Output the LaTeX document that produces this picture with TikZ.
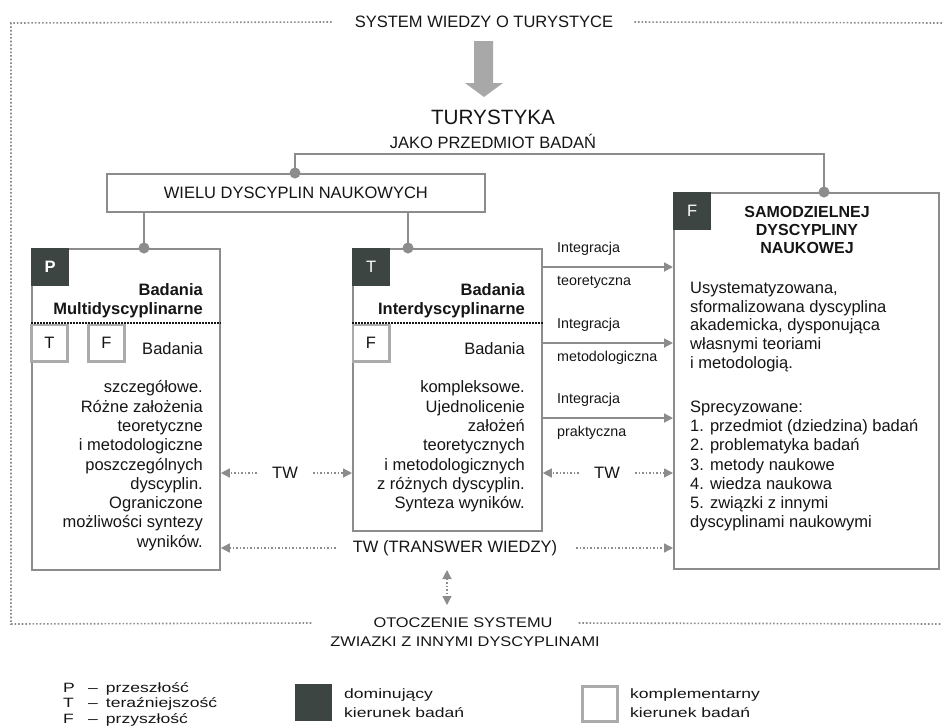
\documentclass[tikz,border=0pt]{standalone}
\usepackage{fontspec}
\setmainfont{Liberation Sans}
\newfontfamily\legfont[FakeStretch=1.3]{Liberation Sans}
\newfontfamily\otofont[FakeStretch=1.17]{Liberation Sans}
\usetikzlibrary{arrows.meta,positioning}

\definecolor{boxgray}{HTML}{8C8C8C}
\definecolor{darkbox}{HTML}{3D4543}
\definecolor{lightbox}{HTML}{ABABAB}
\definecolor{arrowgray}{HTML}{A8A8A8}
\definecolor{txt}{HTML}{151515}

\tikzset{
  body/.style={font=\fontsize{16.5}{19.3}\selectfont, text=txt, inner sep=0pt},
  head/.style={font=\fontsize{16.5}{19}\selectfont\bfseries, text=txt, inner sep=0pt},
  small/.style={font=\fontsize{14.3}{17}\selectfont, text=txt, inner sep=0pt, anchor=base west},
  panel/.style={draw=boxgray, line width=1.8pt, fill=white, anchor=north west, inner sep=0pt},
  dom/.style={fill=darkbox, text=white, minimum size=38pt, anchor=north west, inner sep=0pt,
    font=\fontsize{16.5}{19}\selectfont},
  comp/.style={draw=lightbox, line width=2.6pt, minimum size=36.4pt, inner sep=0pt, text=txt,
    font=\fontsize{16.5}{19}\selectfont},
  conn/.style={draw=boxgray, line width=1.8pt},
  joint/.style={fill=boxgray},
  integ/.style={draw=boxgray, line width=1.8pt, ->},
  twline/.style={draw=boxgray, line width=1.5pt, dotted},
  frame/.style={draw=boxgray, line width=1.6pt, dotted},
  sepline/.style={draw=txt, line width=2pt, densely dotted},
  oto/.style={font=\otofont\fontsize{14}{17}\selectfont, text=txt, inner sep=0pt},
  legend/.style={font=\legfont\fontsize{13.5}{19}\selectfont, text=txt, inner sep=0pt}
}

\begin{document}
\begin{tikzpicture}[x=1pt, y=-1pt, >={Triangle[length=9pt,width=9pt]}]
  \useasboundingbox (0,0) rectangle (950,726);

  \node[body] (title) at (484,22) {SYSTEM WIEDZY O TURYSTYCE};
  \fill[arrowgray] (474,41) -- (493,41) -- (493,83) -- (503,83) -- (484,97)
    -- (465,83) -- (474,83) -- cycle;
  \node[font=\fontsize{20.7}{24}\selectfont, text=txt, inner sep=0pt] (tur) at (493,117) {TURYSTYKA};
  \node[body] (jako) at (493,141) {JAKO PRZEDMIOT BADAŃ};

  \node[panel, body, minimum width=378, minimum height=38] (wielu) at (106,173) {WIELU DYSCYPLIN NAUKOWYCH};
  \node[panel, minimum width=188, minimum height=321] (multi) at (31,248) {};
  \node[panel, minimum width=189, minimum height=282] (inter) at (352,248) {};
  \node[panel, minimum width=265, minimum height=376] (samo) at (673,192) {};

  \coordinate (jw) at (295,173);
  \coordinate (js) at (824,192);
  \coordinate (jm) at (144,248);
  \coordinate (ji) at (408,248);
  \draw[conn] (jw) -- ++(0,-19) -| (js);
  \draw[conn] (jm |- wielu.south) -- (jm);
  \draw[conn] (ji |- wielu.south) -- (ji);
  \foreach \j in {jw,js,jm,ji}{
    \fill[joint] (\j) circle (5.5pt);
  }

  \node[dom, font=\fontsize{16.5}{19}\selectfont\bfseries] (pm) at (multi.north west) {P};
  \node[dom] (ti) at (inter.north west) {T};
  \node[dom] (fs) at (samo.north west) {F};

  \node[head, align=right, anchor=north east] (mtitle) at (203,283) {Badania\\Multidyscyplinarne};
  \node[head, align=right, anchor=north east] (ititle) at (525,283) {Badania\\Interdyscyplinarne};
  \draw[sepline] ([yshift=-75pt]multi.north west) -- ([yshift=-75pt]multi.north east);
  \draw[sepline] ([yshift=-75pt]inter.north west) -- ([yshift=-75pt]inter.north east);

  \node[comp] (mt) at (49.5,343) {T};
  \node[comp] (mf) at (106.5,343) {F};
  \node[comp] (itf) at (371,343) {F};

  \node[body, align=right, anchor=north east] (mtext) at (203,342)
    {Badania\\[19.4pt]szczegółowe.\\Różne założenia\\teoretyczne\\i metodologiczne\\poszczególnych\\dyscyplin.\\Ograniczone\\możliwości syntezy\\wyników.};
  \node[body, align=right, anchor=north east] (itext) at (525,342)
    {Badania\\[19.4pt]kompleksowe.\\Ujednolicenie\\założeń\\teoretycznych\\i metodologicznych\\z różnych dyscyplin.\\Synteza wyników.};

  \node[head, font=\fontsize{16}{18}\selectfont\bfseries, align=center, anchor=north] (stitle) at (807,206)
    {SAMODZIELNEJ\\DYSCYPLINY\\NAUKOWEJ};
  \node[body, font=\fontsize{16.5}{18.7}\selectfont, align=left, anchor=north west] (sdesc) at (690,282)
    {Usystematyzowana,\\sformalizowana dyscyplina\\akademicka, dysponująca\\własnymi teoriami\\i metodologią.};
  \node[body, font=\fontsize{16.5}{19.1}\selectfont, align=left, anchor=north west] (slist) at (690,401)
    {Sprecyzowane:\\1. przedmiot (dziedzina) badań\\2. problematyka badań\\3. metody naukowe\\4. wiedza naukowa\\5. związki z innymi\\dyscyplinami naukowymi};

  \foreach \y/\i/\w in {267/1/teoretyczna, 343/2/metodologiczna, 418/3/praktyczna}{
    \coordinate (r\i) at (0,\y);
    \draw[integ] (inter.east |- r\i) -- (samo.west |- r\i);
    \node[small] (ia\i) at (557,\y-15) {Integracja};
    \node[small] (ib\i) at (557,\y+18) {\w};
  }

  \node[body] (tw1) at (285,473) {TW};
  \node[body] (tw2) at (607,473) {TW};
  \node[body] (trans) at (455,548) {TW (TRANSWER WIEDZY)};
  \draw[twline, ->] ([xshift=-15pt]tw1.west) -- (multi.east |- tw1);
  \draw[twline, ->] ([xshift=15pt]tw1.east) -- (inter.west |- tw1);
  \draw[twline, ->] ([xshift=-15pt]tw2.west) -- (inter.east |- tw2);
  \draw[twline, ->] ([xshift=15pt]tw2.east) -- (samo.west |- tw2);
  \draw[twline, ->] ([xshift=-17pt]trans.west) -- (multi.east |- trans);
  \draw[twline, ->] ([xshift=19pt]trans.east) -- (samo.west |- trans);

  \node[oto] (oto) at (463,623) {OTOCZENIE SYSTEMU};
  \node[oto] (zw) at (465,642) {ZWIAZKI Z INNYMI DYSCYPLINAMI};
  \coordinate (vt) at (447,570);
  \coordinate (vb) at (447,605);
  \draw[twline, line width=1.2pt, <->] (vt) -- (vb);

  \coordinate (ftl) at (11,23);
  \coordinate (fbl) at (11,624);
  \coordinate (ftr) at (942,23);
  \coordinate (fbr) at (942,624);
  \draw[frame] ([xshift=-23pt]title.west) -- (ftl) -- (fbl) -- ([xshift=-62pt]oto.west);
  \draw[frame] ([xshift=21pt]title.east) -- (ftr);
  \draw[frame] ([xshift=26pt]oto.east) -- (fbr);

  \foreach \l/\t/\y in {P/przeszłość/692, T/teraźniejszość/707, F/przyszłość/723}{
    \node[legend, anchor=base west] (leg\l) at (63,\y) {\makebox[25pt][l]{\l}–\hspace{8pt}\t};
  }
  \node[dom, minimum size=37pt] (ldom) at (295,684) {};
  \node[legend, align=left, anchor=north west] (ldomt) at (344,689) {dominujący\\kierunek badań};
  \node[comp, anchor=north west, minimum size=35pt] (lcomp) at (581,685) {};
  \node[legend, align=left, anchor=north west] (lcompt) at (630,689) {komplementarny\\kierunek badań};
\end{tikzpicture}
\end{document}
